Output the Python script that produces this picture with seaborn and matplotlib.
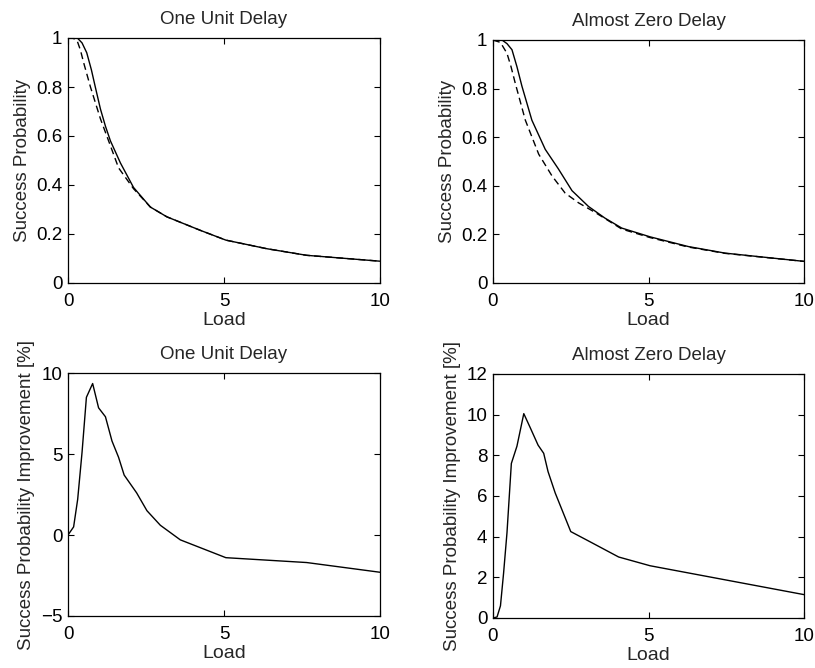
import numpy as np
import pandas as pd
import matplotlib
matplotlib.use("Agg")
import matplotlib.pyplot as plt
import seaborn as sns

# top-left: one unit delay, success probability
load_tl_solid = [0, 0.3, 0.45, 0.6, 0.75, 0.875, 1.04, 1.2, 1.36, 1.68, 2.1, 2.64, 3.17, 4.24, 5.06, 6.37, 7.65, 10]
prob_tl_solid = [1.0, 1.0, 0.98, 0.94, 0.87, 0.80, 0.71, 0.64, 0.58, 0.49, 0.39, 0.31, 0.27, 0.215, 0.175, 0.14, 0.113, 0.089]
load_tl_dash = [0, 0.15, 0.29, 0.4, 0.5, 0.72, 1.04, 1.36, 1.62, 2.1, 2.64, 3.17, 4.24, 5.06, 6.37, 7.65, 10]
prob_tl_dash = [1.0, 1.0, 0.99, 0.95, 0.90, 0.80, 0.67, 0.56, 0.47, 0.385, 0.31, 0.27, 0.215, 0.175, 0.14, 0.113, 0.089]

# top-right: almost zero delay, success probability
load_tr_solid = [0, 0.29, 0.45, 0.61, 0.77, 0.93, 1.25, 1.68, 2.1, 2.54, 3.07, 3.6, 4.14, 5.05, 6.28, 7.46, 10]
prob_tr_solid = [1.0, 1.0, 0.985, 0.96, 0.89, 0.81, 0.67, 0.55, 0.47, 0.38, 0.315, 0.267, 0.226, 0.19, 0.15, 0.123, 0.089]
load_tr_dash = [0, 0.24, 0.45, 0.58, 0.72, 1.04, 1.47, 1.9, 2.32, 2.75, 3.29, 4.14, 5.05, 6.28, 7.46, 10]
prob_tr_dash = [1.0, 0.99, 0.945, 0.89, 0.82, 0.67, 0.53, 0.44, 0.37, 0.33, 0.29, 0.222, 0.187, 0.148, 0.122, 0.089]

# bottom-left: one unit delay, improvement [%]
load_bl = [0, 0.18, 0.31, 0.45, 0.59, 0.79, 0.98, 1.2, 1.41, 1.62, 1.8, 2.2, 2.53, 2.96, 3.6, 5.06, 7.65, 10]
impr_bl = [0, 0.5, 2.2, 5.1, 8.5, 9.35, 7.85, 7.3, 5.8, 4.8, 3.7, 2.6, 1.5, 0.6, -0.3, -1.4, -1.7, -2.3]

# bottom-right: almost zero delay, improvement [%]
load_br = [0, 0.13, 0.24, 0.34, 0.45, 0.59, 0.77, 0.99, 1.2, 1.45, 1.63, 1.77, 2.0, 2.5, 3.18, 4.04, 5.05, 10]
impr_br = [0, 0.05, 0.6, 2.2, 4.2, 7.6, 8.45, 10.05, 9.35, 8.5, 8.1, 7.2, 6.15, 4.25, 3.7, 3.0, 2.57, 1.15]

titles = ["One Unit Delay", "Almost Zero Delay"]

sns.set_style("ticks")
plt.rcParams['font.family'] = ['Liberation Sans', 'DejaVu Sans']

fig = plt.figure(figsize=(8.15, 6.68), dpi=100)
W, H = 815, 668


def make_ax(x0, y0, x1, y1):
    return fig.add_axes([x0 / W, 1 - y1 / H, (x1 - x0) / W, (y1 - y0) / H])


def style(ax, title, ylabel, yticks, ylabels):
    ax.set_xlim(0, 10)
    ax.set_xticks([0, 5, 10])
    ax.set_xticklabels(["0", "5", "10"])
    ax.set_yticks(yticks)
    ax.set_yticklabels(ylabels)
    ax.tick_params(direction="in", top=True, right=True, length=4,
                   width=0.8, labelsize=13.5, colors="black")
    ax.tick_params(axis="x", pad=7)
    ax.tick_params(axis="y", pad=4)
    for s in ax.spines.values():
        s.set_linewidth(0.9)
        s.set_color("black")
    ax.set_title(title, fontsize=13.5, pad=10)
    ax.set_xlabel("Load", fontsize=14, labelpad=2)
    ax.set_ylabel(ylabel, fontsize=13.5, labelpad=4)
    if ax.get_legend():
        ax.get_legend().remove()


ax_tl = make_ax(68, 38, 380, 283)
ax_tr = make_ax(493, 40, 804, 283)
ax_bl = make_ax(68, 373, 380, 616)
ax_br = make_ax(493, 374, 804, 618)

p_ticks = [0, 0.2, 0.4, 0.6, 0.8, 1]
p_labels = ["0", "0.2", "0.4", "0.6", "0.8", "1"]

for ax, ls, ps, ld, pd_, t in [
    (ax_tl, load_tl_solid, prob_tl_solid, load_tl_dash, prob_tl_dash, titles[0]),
    (ax_tr, load_tr_solid, prob_tr_solid, load_tr_dash, prob_tr_dash, titles[1]),
]:
    sns.lineplot(x=ld, y=pd_, ax=ax, color="black", lw=1.0, linestyle=(0, (5, 3)))
    sns.lineplot(x=ls, y=ps, ax=ax, color="black", lw=1.0)
    ax.set_ylim(0, 1)
    style(ax, t, "Success Probability", p_ticks, p_labels)

sns.lineplot(x=load_bl, y=impr_bl, ax=ax_bl, color="black", lw=1.0)
ax_bl.set_ylim(-5, 10)
style(ax_bl, titles[0], "Success Probability Improvement [%]",
      [-5, 0, 5, 10], ["\u22125", "0", "5", "10"])

sns.lineplot(x=load_br, y=impr_br, ax=ax_br, color="black", lw=1.0)
ax_br.set_ylim(0, 12)
style(ax_br, titles[1], "Success Probability Improvement [%]",
      [0, 2, 4, 6, 8, 10, 12], ["0", "2", "4", "6", "8", "10", "12"])

fig.savefig("out.png", dpi=100, facecolor="white")
